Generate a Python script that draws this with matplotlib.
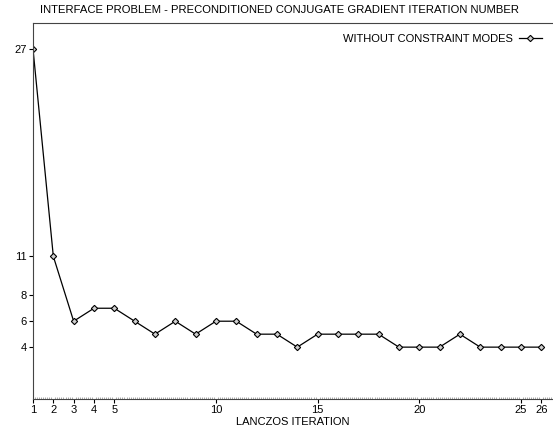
import matplotlib
matplotlib.use('Agg')
import matplotlib.pyplot as plt
import numpy as np

plt.rcParams['font.family'] = ['Liberation Sans', 'DejaVu Sans']

iterations = list(range(1, 27))
cg_iters = [27, 11, 6, 7, 7, 6, 5, 6, 5, 6, 6, 5, 5, 4, 5, 5, 5, 5, 4, 4, 4, 5, 4, 4, 4, 4]
xticks = [1, 2, 3, 4, 5, 10, 15, 20, 25, 26]
yticks = [4, 6, 8, 11, 27]

fig = plt.figure(figsize=(5.53, 4.32), dpi=100)
ax = fig.add_axes([33/553, 33/432, 520/553, 376/432])

ax.plot(iterations, cg_iters, color='black', lw=0.9, marker='D', ms=3.2,
        mfc='#d0d0d0', mec='black', mew=0.8, label='WITHOUT CONSTRAINT MODES')

ax.set_xlim(1, 26.58)
ax.set_ylim(0, 29)
ax.set_xticks(xticks)
ax.set_yticks(yticks)
ax.set_xticks(np.arange(1, 26.6, 0.1), minor=True)
ax.tick_params(axis='both', which='major', labelsize=8, length=3, width=0.8, pad=1.5)
ax.tick_params(axis='x', which='minor', length=1.5, width=0.4, direction='in', color='#666666')
ax.tick_params(axis='y', which='minor', length=0)

ax.spines['right'].set_visible(False)
for s in ['left', 'top', 'bottom']:
    ax.spines[s].set_linewidth(0.8)
    ax.spines[s].set_color('#444444')

ax.set_xlabel('LANCZOS ITERATION', fontsize=8, labelpad=1)
fig.text(0.505, 0.977, 'INTERFACE PROBLEM - PRECONDITIONED CONJUGATE GRADIENT ITERATION NUMBER',
         ha='center', va='center', fontsize=8.1)

ax.legend(loc='upper right', frameon=False, fontsize=8, markerfirst=False,
          handlelength=2.0, handletextpad=0.6, borderaxespad=0.4,
          bbox_to_anchor=(0.995, 0.995))

fig.savefig('out.png', dpi=100)
